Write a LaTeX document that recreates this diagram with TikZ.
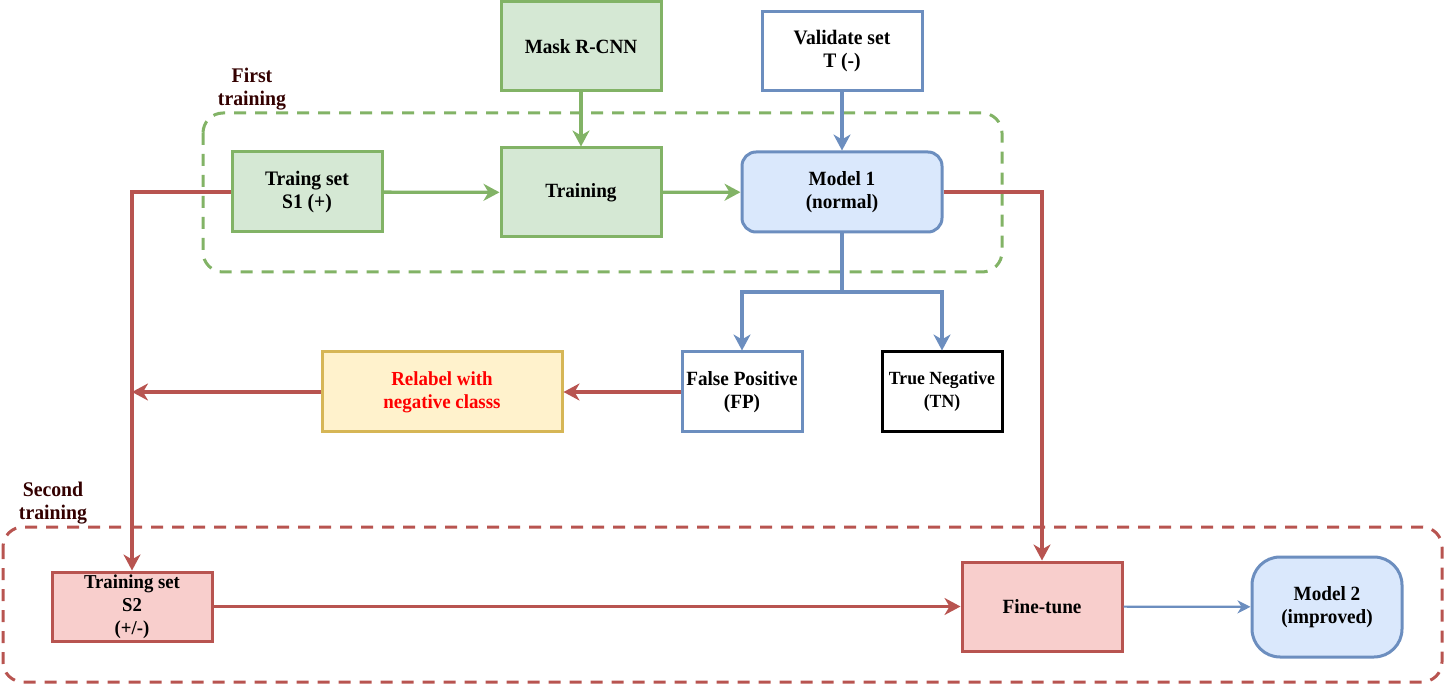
\documentclass[tikz,border=0pt]{standalone}
\usepackage{fontspec}
\setmainfont{Liberation Serif}[FakeStretch=0.95]
\usetikzlibrary{arrows.meta}
\definecolor{gstroke}{HTML}{82B366}
\definecolor{gfill}{HTML}{D5E8D4}
\definecolor{bstroke}{HTML}{6C8EBF}
\definecolor{bfill}{HTML}{DAE8FC}
\definecolor{rstroke}{HTML}{B85450}
\definecolor{rfill}{HTML}{F8CECC}
\definecolor{ystroke}{HTML}{D6B656}
\definecolor{yfill}{HTML}{FFF2CC}
\definecolor{lblcol}{HTML}{330000}
\definecolor{pureRed}{HTML}{FF0000}
\newcommand{\fs}[1]{\fontsize{#1}{23}\selectfont\bfseries}
\tikzset{
  box/.style={draw, line width=3pt, align=center, inner sep=0pt, font=\fs{20.2}},
  gbox/.style={box, draw=gstroke, fill=gfill},
  bbox/.style={box, draw=bstroke, fill=white},
  bround/.style={box, draw=bstroke, fill=bfill, rounded corners=14pt},
  rbox/.style={box, draw=rstroke, fill=rfill},
  ybox/.style={box, draw=ystroke, fill=yfill, text=pureRed, font=\fs{19.9}},
  kbox/.style={box, draw=black, fill=white},
  tip/.style={-{Stealth[length=16pt,width=17pt,inset=5pt]}},
  smalltip/.style={-{Stealth[length=13pt,width=13pt,inset=4pt]}},
  garr/.style={tip, draw=gstroke, line width=3.3pt},
  barr/.style={tip, draw=bstroke, line width=3.3pt},
  rarr/.style={tip, draw=rstroke, line width=3.3pt},
  grp/.style={line width=3pt, dash pattern=on 12pt off 9pt, rounded corners=20pt},
  lbl/.style={text=lblcol, align=center, font=\fs{20.8}, inner sep=0pt},
}
\begin{document}
\begin{tikzpicture}[x=1pt,y=-1pt]
\useasboundingbox (0,0) rectangle (1444,692);
% groups
\draw[grp, draw=gstroke] (203,113) rectangle (1002,272);
\draw[grp, draw=rstroke] (3,527) rectangle (1442,682);
\node[lbl] (lfirst) at (252,89) {First\\training};
\node[lbl] (lsecond) at (53,503) {Second\\training};
% nodes
\node[gbox, minimum width=160, minimum height=89] (mask) at (581,46.5) {Mask R-CNN};
\node[bbox, minimum width=160, minimum height=79, font=\fs{20.6}] (val) at (842,51.5) {Validate set\\T (-)};
\node[gbox, minimum width=150, minimum height=80, font=\fs{20.6}] (s1) at (307,192) {Traing set\\S1 (+)};
\node[gbox, minimum width=160, minimum height=89] (train) at (581,192.5) {Training};
\node[bround, minimum width=200, minimum height=80] (m1) at (842,192) {Model 1\\(normal)};
\node[bbox, minimum width=120, minimum height=80] (fp) at (742,392) {False Positive\\(FP)};
\node[kbox, minimum width=120, minimum height=80, font=\fs{18.6}] (tn) at (942,392) {True Negative\\(TN)};
\node[ybox, minimum width=240, minimum height=80] (rel) at (442,392) {Relabel with\\negative classs};
\node[rbox, minimum width=160, minimum height=69, font=\fs{19.7}] (s2) at (132,606.5) {Training set\\S2\\(+/-)};
\node[rbox, minimum width=160, minimum height=89] (ft) at (1042,606.5) {Fine-tune};
\node[bround, rounded corners=28pt, minimum width=150, minimum height=100] (m2) at (1327,607) {Model 2\\(improved)};
\coordinate (split) at (842,292);
\coordinate (relend) at (132,392);
% connectors
\draw[garr] (mask) -- (train);
\draw[garr] (s1) -- (train);
\draw[garr] (train) -- (m1);
\draw[barr] (val) -- (m1);
\draw[bstroke, line width=3.3pt] (m1) -- (split);
\draw[barr] (split) -| (fp.north);
\draw[barr] (split) -| (tn.north);
\draw[rarr] (fp) -- (rel);
\draw[rarr] (rel) -- (relend);
\draw[rarr] (s1.west) -| (s2.north);
\draw[rarr] (m1.east) -| (ft.north);
\draw[rarr] (s2) -- (ft);
\draw[smalltip, draw=bstroke, line width=2.2pt] (ft) -- (m2);
\end{tikzpicture}
\end{document}
